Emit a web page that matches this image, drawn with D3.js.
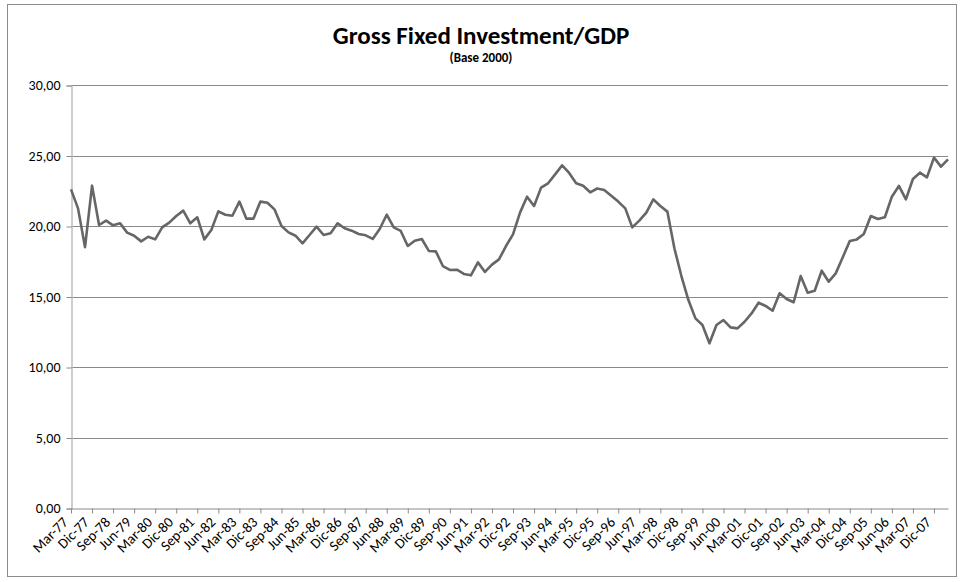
<!DOCTYPE html>
<html>
<head>
<meta charset="utf-8">
<script src="https://cdn.jsdelivr.net/npm/d3@7"></script>
<style>
  body { margin: 0; background: #fff; }
  svg { display: block; }
</style>
</head>
<body>
<div id="chart"></div>
<script>
// quarterly ratio, Mar-77 .. Jun-08
var values = [
  22.60, 21.25, 18.50, 22.86, 20.07, 20.38, 20.05, 20.19, 19.53, 19.31,
  18.91, 19.24, 19.05, 19.90, 20.24, 20.71, 21.09, 20.19, 20.62, 19.05,
  19.72, 21.04, 20.80, 20.73, 21.73, 20.52, 20.52, 21.73, 21.65, 21.18,
  20.00, 19.55, 19.31, 18.77, 19.36, 19.95, 19.36, 19.48, 20.19, 19.84,
  19.67, 19.43, 19.34, 19.08, 19.79, 20.80, 19.90, 19.65, 18.58, 18.96,
  19.08, 18.23, 18.20, 17.16, 16.88, 16.90, 16.60, 16.50, 17.42, 16.74,
  17.26, 17.63, 18.58, 19.41, 20.95, 22.08, 21.42, 22.72, 23.03, 23.66,
  24.30, 23.76, 23.03, 22.85, 22.39, 22.66, 22.55, 22.15, 21.73, 21.25,
  19.90, 20.38, 20.95, 21.89, 21.42, 21.02, 18.42, 16.45, 14.75, 13.45,
  12.98, 11.68, 12.98, 13.33, 12.81, 12.74, 13.21, 13.80, 14.56, 14.33,
  13.99, 15.23, 14.82, 14.59, 16.45, 15.27, 15.41, 16.83, 16.05, 16.64,
  17.78, 18.94, 19.05, 19.43, 20.71, 20.50, 20.62, 22.08, 22.84, 21.89,
  23.33, 23.78, 23.45, 24.85, 24.21, 24.73
];
var quarterNames = ["Mar", "Jun", "Sep", "Dic"];
var firstYear = 1977;
var yTicks = [0, 5, 10, 15, 20, 25, 30];
var titleText = "Gross Fixed Investment/GDP";
var subtitleText = "(Base 2000)";

(function () {
  // category labels like Mar-77
  var categories = values.map(function (v, i) {
    var yr = firstYear + Math.floor(i / 4);
    return quarterNames[i % 4] + "-" + String(yr % 100).padStart(2, "0");
  });

  var width = 962, height = 582;
  var mLeft = 71, mRight = 948, mTop = 85, mBottom = 508;
  var font = "Carlito, Calibri, Lato, 'Open Sans', sans-serif";

  var svg = d3.select("#chart").append("svg")
    .attr("width", width)
    .attr("height", height);

  // chart border
  svg.append("rect")
    .attr("x", 7.5).attr("y", 4.5)
    .attr("width", 949).attr("height", 572)
    .attr("fill", "#fff")
    .attr("stroke", "#8c8c8c")
    .attr("stroke-width", 1);

  var x = d3.scalePoint().domain(categories).range([mLeft, mRight]).padding(0);
  var y = d3.scaleLinear().domain([0, 30]).range([mBottom, mTop]);

  // gridlines
  svg.append("g").selectAll("line")
    .data(yTicks.filter(function (d) { return d > 0; }))
    .join("line")
    .attr("x1", mLeft).attr("x2", mRight)
    .attr("y1", function (d) { return Math.round(y(d)) + 0.5; })
    .attr("y2", function (d) { return Math.round(y(d)) + 0.5; })
    .attr("stroke", "#8a8a8a")
    .attr("stroke-width", 1);

  // y axis
  var yAxis = svg.append("g")
    .attr("transform", "translate(" + (mLeft + 0.5) + ",0.5)")
    .call(d3.axisLeft(y).tickValues(yTicks).tickSize(5).tickPadding(6)
      .tickFormat(function (d) { return d3.format(".2f")(d).replace(".", ","); }));
  yAxis.select(".domain").attr("stroke", "#bdbdbd").attr("stroke-width", 1.5);
  yAxis.selectAll(".tick line").attr("stroke", "#8a8a8a");
  yAxis.selectAll("text")
    .attr("font-family", font)
    .attr("font-size", 14)
    .attr("fill", "#000");

  // x axis
  var tickCats = categories.filter(function (c, i) { return i % 3 === 0; });
  var xAxis = svg.append("g")
    .attr("transform", "translate(0," + (mBottom + 0.5) + ")")
    .call(d3.axisBottom(x).tickValues(tickCats).tickSize(5).tickSizeOuter(0).tickFormat(""));
  xAxis.select(".domain").attr("stroke", "#8a8a8a");
  xAxis.selectAll(".tick line").attr("stroke", "#8a8a8a");

  svg.append("g").selectAll("text")
    .data(tickCats)
    .join("text")
    .attr("transform", function (d) {
      return "translate(" + (x(d) - 2) + "," + (mBottom + 15) + ") rotate(-45)";
    })
    .attr("text-anchor", "end")
    .attr("font-family", font)
    .attr("font-size", 14.5)
    .attr("fill", "#000")
    .text(function (d) { return d; });

  // series line
  var line = d3.line()
    .x(function (d, i) { return x(categories[i]); })
    .y(function (d) { return y(d); });

  svg.append("path")
    .datum(values)
    .attr("d", line)
    .attr("fill", "none")
    .attr("stroke", "#666666")
    .attr("stroke-width", 2.6)
    .attr("stroke-linejoin", "round");

  // titles
  svg.append("text")
    .attr("x", 481).attr("y", 44)
    .attr("text-anchor", "middle")
    .attr("font-family", font)
    .attr("font-weight", "bold")
    .attr("font-size", 25)
    .attr("fill", "#000")
    .text(titleText);

  svg.append("text")
    .attr("x", 481).attr("y", 62)
    .attr("text-anchor", "middle")
    .attr("font-family", font)
    .attr("font-weight", "bold")
    .attr("font-size", 13)
    .attr("fill", "#000")
    .text(subtitleText);
})();
</script>
</body>
</html>
